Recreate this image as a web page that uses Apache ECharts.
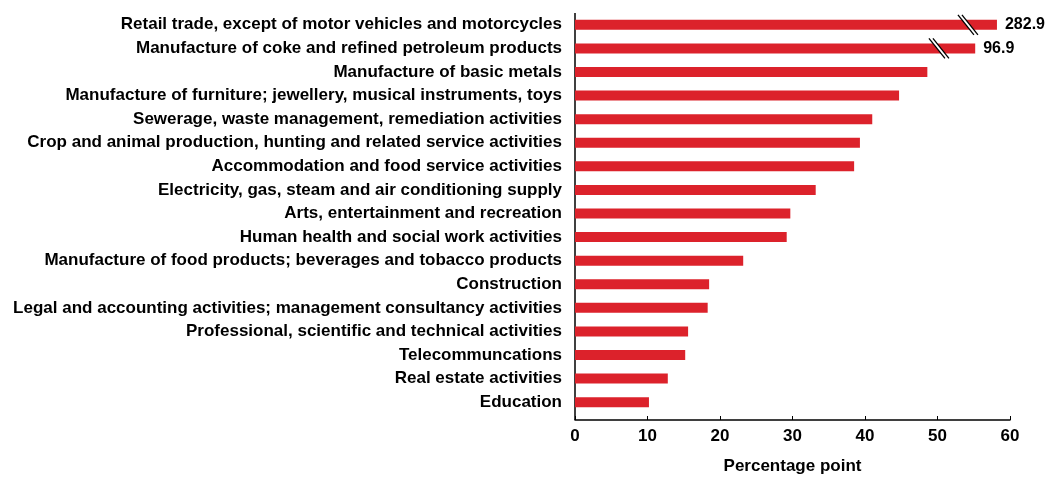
<!DOCTYPE html>
<html>
<head>
<meta charset="utf-8">
<script src="https://cdn.jsdelivr.net/npm/echarts@6/dist/echarts.min.js"></script>
<style>
  html, body { margin: 0; padding: 0; background: #fff; }
  #chart { width: 1046px; height: 477px; }
</style>
</head>
<body>
<div id="chart"></div>
<script>
// categories top to bottom
const categories = [
  'Retail trade, except of motor vehicles and motorcycles',
  'Manufacture of coke and refined petroleum products',
  'Manufacture of basic metals',
  'Manufacture of furniture; jewellery, musical instruments, toys',
  'Sewerage, waste management, remediation activities',
  'Crop and animal production, hunting and related service activities',
  'Accommodation and food service activities',
  'Electricity, gas, steam and air conditioning supply',
  'Arts, entertainment and recreation',
  'Human health and social work activities',
  'Manufacture of food products; beverages and tobacco products',
  'Construction',
  'Legal and accounting activities; management consultancy activities',
  'Professional, scientific and technical activities',
  'Telecommuncations',
  'Real estate activities',
  'Education'
]
// drawn bar length (broken bars are truncated)
const drawnValues = [58.2, 55.2, 48.6, 44.7, 41.0, 39.3, 38.5, 33.2, 29.7, 29.2, 23.2, 18.5, 18.3, 15.6, 15.2, 12.8, 10.2]
// real values shown as labels for broken bars
const breakLabels = ['282.9', '96.9']
const breakAt = [54.2, 50.2]
const xTicks = [0, 10, 20, 30, 40, 50, 60]

const font = '"Liberation Sans", Arial, sans-serif'
const W = 1046, H = 477
const gridTop = 13, gridBottom = 63, xOffset = 6

const chart = echarts.init(document.getElementById('chart'))

const barData = drawnValues.map((v, i) => ({
  value: v,
  label: i < breakLabels.length ? {
    show: true, position: 'right', distance: 8,
    formatter: breakLabels[i],
    color: '#000', fontFamily: font, fontWeight: 'bold', fontSize: 16
  } : { show: false }
}))

chart.setOption({
  animation: false,
  grid: { left: 575, right: 36, top: gridTop, bottom: gridBottom, containLabel: false, outerBoundsMode: 'none' },
  xAxis: {
    type: 'value', min: 0, max: 60, interval: 10, offset: xOffset,
    name: 'Percentage point', nameLocation: 'middle', nameGap: 38,
    nameTextStyle: { color: '#000', fontFamily: font, fontSize: 17, fontWeight: 'bold' },
    axisLine: { show: true, lineStyle: { color: '#000', width: 1.5 } },
    axisTick: { show: true, inside: true, length: 4, lineStyle: { color: '#000' } },
    axisLabel: { color: '#000', fontFamily: font, fontSize: 17, fontWeight: 'bold', margin: 8,
      formatter: v => xTicks.includes(v) ? String(v) : '' },
    splitLine: { show: false }
  },
  yAxis: {
    type: 'category', inverse: true, data: categories,
    axisLine: { show: false },
    axisTick: { show: false },
    axisLabel: { color: '#000', fontFamily: font, fontSize: 17, fontWeight: 'bold', margin: 13 }
  },
  series: [
    {
      type: 'bar', data: barData, barWidth: 10,
      itemStyle: { color: '#dc222b' }
    },
    {
      type: 'custom',
      data: breakAt.map((v, i) => [v, i]),
      z: 10,
      renderItem: (params, api) => {
        const p = api.coord([api.value(0), api.value(1)])
        const dx = 8, dy = 10, gap = 4
        const shapeLine = off => ({
          type: 'line',
          shape: { x1: p[0] - dx + off, y1: p[1] - dy, x2: p[0] + dx + off, y2: p[1] + dy },
          style: { stroke: '#000', lineWidth: 1.3 }
        })
        return {
          type: 'group',
          children: [
            {
              type: 'polygon',
              shape: { points: [
                [p[0] - dx - gap / 2, p[1] - dy], [p[0] - dx + gap / 2, p[1] - dy],
                [p[0] + dx + gap / 2, p[1] + dy], [p[0] + dx - gap / 2, p[1] + dy]
              ] },
              style: { fill: '#fff' }
            },
            shapeLine(-gap / 2),
            shapeLine(gap / 2)
          ]
        }
      }
    }
  ]
})

// vertical axis line reaching down to the offset x axis
const x0 = chart.convertToPixel({ xAxisIndex: 0 }, 0)
chart.setOption({
  graphic: [{
    type: 'line', silent: true,
    shape: { x1: x0, y1: gridTop, x2: x0, y2: H - gridBottom + xOffset },
    style: { stroke: '#000', lineWidth: 1.5 }
  }]
})
</script>
</body>
</html>
